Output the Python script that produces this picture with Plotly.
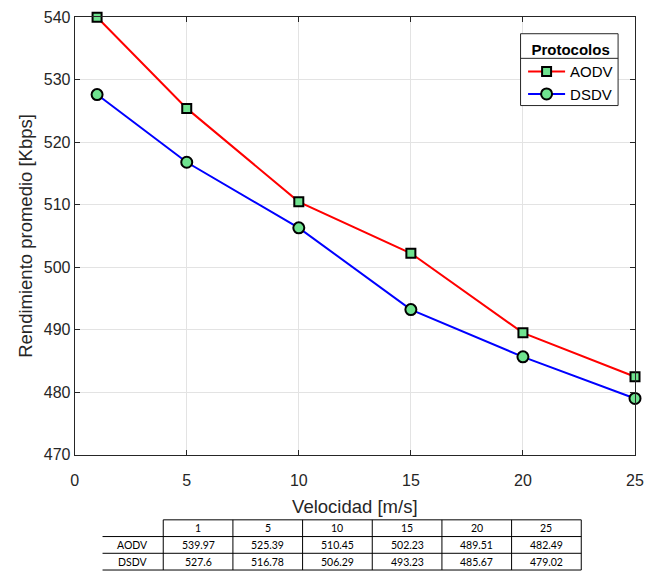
import plotly.graph_objects as go

velocidad = [1, 5, 10, 15, 20, 25]
aodv = [539.97, 525.39, 510.45, 502.23, 489.51, 482.49]
dsdv = [527.6, 516.78, 506.29, 493.23, 485.67, 479.02]
protocolos = ["AODV", "DSDV"]
x_ticks = [0, 5, 10, 15, 20, 25]
y_ticks = [470, 480, 490, 500, 510, 520, 530, 540]

W, H = 646, 581
ML, MR, MT, MB = 4, 8, 17, 1
PW, PH = W - ML - MR, H - MT - MB

def px_x(p):
    return (p - ML) / PW

def px_y(p):
    return (H - MB - p) / PH

marker_fill = "#6FE38F"
font_main = "Liberation Sans, Arial, sans-serif"
font_tab = "Lato, Open Sans, sans-serif"

fig = go.Figure()
fig.add_trace(go.Scatter(
    x=velocidad, y=aodv, name="AODV", mode="lines+markers",
    line=dict(color="#FF0000", width=2),
    marker=dict(symbol="square", size=9, color=marker_fill, line=dict(color="black", width=2)),
    cliponaxis=False,
))
fig.add_trace(go.Scatter(
    x=velocidad, y=dsdv, name="DSDV", mode="lines+markers",
    line=dict(color="#0000FF", width=2),
    marker=dict(symbol="circle", size=11, color=marker_fill, line=dict(color="black", width=2)),
    cliponaxis=False,
))

axis_common = dict(
    showgrid=True, gridcolor="#E3E3E3", gridwidth=1,
    showline=True, linecolor="#262626", linewidth=1, mirror="ticks",
    ticks="inside", ticklen=5, tickcolor="#262626",
    tickfont=dict(family=font_main, size=16, color="#262626"),
    zeroline=False,
)

# legend geometry (pixels)
LG_L, LG_R, LG_T, LG_B, LG_SEP = 522, 620, 34, 107, 59

fig.update_layout(
    width=W, height=H,
    margin=dict(l=ML, r=MR, t=MT, b=MB),
    paper_bgcolor="white", plot_bgcolor="white",
    font=dict(family=font_main, color="#262626"),
    xaxis=dict(axis_common, range=[0, 25], tickvals=x_ticks,
               domain=[px_x(74), px_x(637)], ticklabelstandoff=11,
               title=dict(text="Velocidad [m/s]", font=dict(size=18.5, color="#262626"), standoff=11)),
    yaxis=dict(axis_common, range=[470, 540], tickvals=y_ticks,
               domain=[px_y(462), px_y(17)], ticklabelstandoff=0,
               title=dict(text="Rendimiento promedio [Kbps]", font=dict(size=18.5, color="#262626"), standoff=6)),
    legend=dict(
        x=px_x(LG_R), y=px_y(LG_T + 2), xanchor="right", yanchor="top",
        bgcolor="rgba(0,0,0,0)", borderwidth=0,
        font=dict(family=font_main, size=15, color="black"),
        title=dict(text="<b>Protocolos</b>", side="top center",
                   font=dict(family=font_main, size=15, color="black")),
        itemwidth=37, tracegroupgap=0,
    ),
    showlegend=True,
)
# legend box, drawn as shapes so the title separator can be shown
fig.add_shape(type="rect", xref="paper", yref="paper", layer="above",
              x0=px_x(LG_L), x1=px_x(LG_R), y0=px_y(LG_B), y1=px_y(LG_T),
              fillcolor="white", line=dict(color="#262626", width=1))
fig.add_shape(type="line", xref="paper", yref="paper", layer="above",
              x0=px_x(LG_L), x1=px_x(LG_R), y0=px_y(LG_SEP), y1=px_y(LG_SEP),
              line=dict(color="#262626", width=1))

# data table below the chart, built from the data arrays
T_LAB_L, T_L, COL_W = 102, 163, 70
ROW_T = [528, 545, 562]
ROW_H = 17
T_R = T_L + COL_W * len(velocidad)
T_B = ROW_T[-1] + ROW_H
line_style = dict(color="black", width=1)
fig.add_shape(type="line", xref="paper", yref="paper",
              x0=px_x(T_L), x1=px_x(T_R), y0=px_y(ROW_T[0]), y1=px_y(ROW_T[0]), line=line_style)
for yy in ROW_T[1:] + [T_B]:
    fig.add_shape(type="line", xref="paper", yref="paper",
                  x0=px_x(T_LAB_L), x1=px_x(T_R), y0=px_y(yy), y1=px_y(yy), line=line_style)
for i in range(len(velocidad) + 1):
    xx = T_L + COL_W * i
    fig.add_shape(type="line", xref="paper", yref="paper",
                  x0=px_x(xx), x1=px_x(xx), y0=px_y(ROW_T[0]), y1=px_y(T_B), line=line_style)

def cell_text(txt, xc, yc):
    fig.add_annotation(text=txt, xref="paper", yref="paper", x=px_x(xc), y=px_y(yc),
                       xanchor="center", yanchor="middle", showarrow=False,
                       font=dict(family=font_tab, size=10.5, color="black"))

for i, v in enumerate(velocidad):
    cell_text(str(v), T_L + COL_W * (i + 0.5), ROW_T[0] + ROW_H / 2)
for r, (name, vals) in enumerate(zip(protocolos, [aodv, dsdv])):
    yc = ROW_T[r + 1] + ROW_H / 2
    cell_text(name, (T_LAB_L + T_L) / 2, yc)
    for i, v in enumerate(vals):
        cell_text(f"{v:g}", T_L + COL_W * (i + 0.5), yc)

fig.write_html("out.html")
